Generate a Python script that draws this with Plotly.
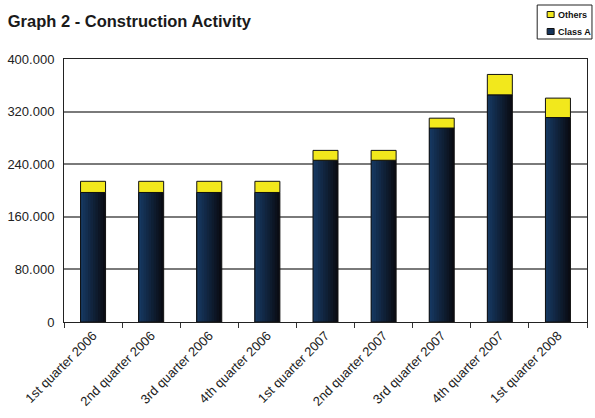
import plotly.graph_objects as go

# Quarterly construction activity
quarters = [
    "1st quarter 2006", "2nd quarter 2006", "3rd quarter 2006", "4th quarter 2006",
    "1st quarter 2007", "2nd quarter 2007", "3rd quarter 2007", "4th quarter 2007",
    "1st quarter 2008",
]
class_a = [197000, 197000, 197000, 197000, 246000, 246000, 295000, 345500, 311000]
others = [17000, 17000, 17000, 17000, 15000, 15000, 15000, 31000, 29500]

y_ticks = [0, 80000, 160000, 240000, 320000, 400000]
y_tick_text = ["0", "80.000", "160.000", "240.000", "320.000", "400.000"]

series_names = ["Others", "Class A"]

FONT = "Liberation Sans, Arial, sans-serif"
W, H = 595, 418
M_L, M_R, M_T, M_B = 63, 7, 59, 96
BAR_W = 0.43
N_STRIPS = 10
LIGHT = (22, 56, 96)   # left edge of the navy bars
DARK = (10, 12, 20)    # right edge of the navy bars
YELLOW = "#f2e81c"
NAVY = "#15335a"


def mix(t):
    r, g, b = (round(DARK[k] + (LIGHT[k] - DARK[k]) * t) for k in range(3))
    return f"rgb({r},{g},{b})"


# page pixel -> paper fraction (paper spans the plot area)
def px(x):
    return (x - M_L) / (W - M_L - M_R)


def py(y):
    return (H - M_B - y) / (H - M_T - M_B)


fig = go.Figure()

# Class A: narrower left-aligned strips layered to give a horizontal shading
for i in range(N_STRIPS):
    frac = 1 - i / N_STRIPS
    fig.add_trace(go.Bar(
        x=quarters, y=class_a, base=0,
        width=BAR_W * frac, offset=-BAR_W / 2,
        marker=dict(color=mix(i / (N_STRIPS - 1)), line=dict(width=0)),
        name="Class A", showlegend=False, hoverinfo="skip",
    ))

# outline of the Class A bars
fig.add_trace(go.Bar(
    x=quarters, y=class_a, base=0, width=BAR_W, offset=-BAR_W / 2,
    marker=dict(color="rgba(0,0,0,0)", line=dict(color="#111", width=1)),
    showlegend=False, hoverinfo="skip",
))

# Others stacked on top
fig.add_trace(go.Bar(
    x=quarters, y=others, base=class_a, width=BAR_W, offset=-BAR_W / 2,
    marker=dict(color=YELLOW, line=dict(color="#111", width=1)),
    name="Others", showlegend=False,
))

# compact legend box in the top-right corner
shapes = [dict(type="rect", xref="paper", yref="paper",
               x0=px(538), x1=px(593), y0=py(5), y1=py(39),
               line=dict(color="#222", width=1), fillcolor="white", layer="above")]
annotations = []
for name, color, yc in zip(series_names, [YELLOW, NAVY], [14.5, 31.5]):
    shapes.append(dict(type="rect", xref="paper", yref="paper",
                       x0=px(548), x1=px(555), y0=py(yc - 3), y1=py(yc + 3),
                       line=dict(color="#111", width=1), fillcolor=color, layer="above"))
    annotations.append(dict(xref="paper", yref="paper", x=px(556.5), y=py(yc),
                            xanchor="left", yanchor="middle", showarrow=False,
                            text=f"<b>{name}</b>",
                            font=dict(size=9, color="#111", family=FONT)))

fig.update_layout(
    width=W, height=H,
    margin=dict(l=M_L, r=M_R, t=M_T, b=M_B),
    barmode="overlay",
    paper_bgcolor="white", plot_bgcolor="white",
    font=dict(family=FONT, color="#111"),
    title=dict(
        text="<b>Graph 2 - Construction Activity</b>",
        x=0.013, xanchor="left", y=0.95, yanchor="middle",
        font=dict(size=16.5, color="#1a1a1a"),
    ),
    showlegend=False,
    shapes=shapes,
    annotations=annotations,
)

fig.update_xaxes(
    type="category", tickangle=-45,
    tickfont=dict(size=13, color="#222"),
    ticks="outside", tickson="boundaries", ticklen=5, tickcolor="#333",
    showline=True, linecolor="#222", linewidth=1, mirror=True,
    showgrid=False,
)
fig.update_yaxes(
    range=[0, 400000], tickvals=y_ticks, ticktext=y_tick_text,
    tickfont=dict(size=13, color="#222"),
    showgrid=True, gridcolor="#7a7a7a", gridwidth=1.5,
    showline=True, linecolor="#222", linewidth=1, mirror=True,
    zeroline=False, ticks="", ticklabelstandoff=6,
)

fig.write_html("out.html")
